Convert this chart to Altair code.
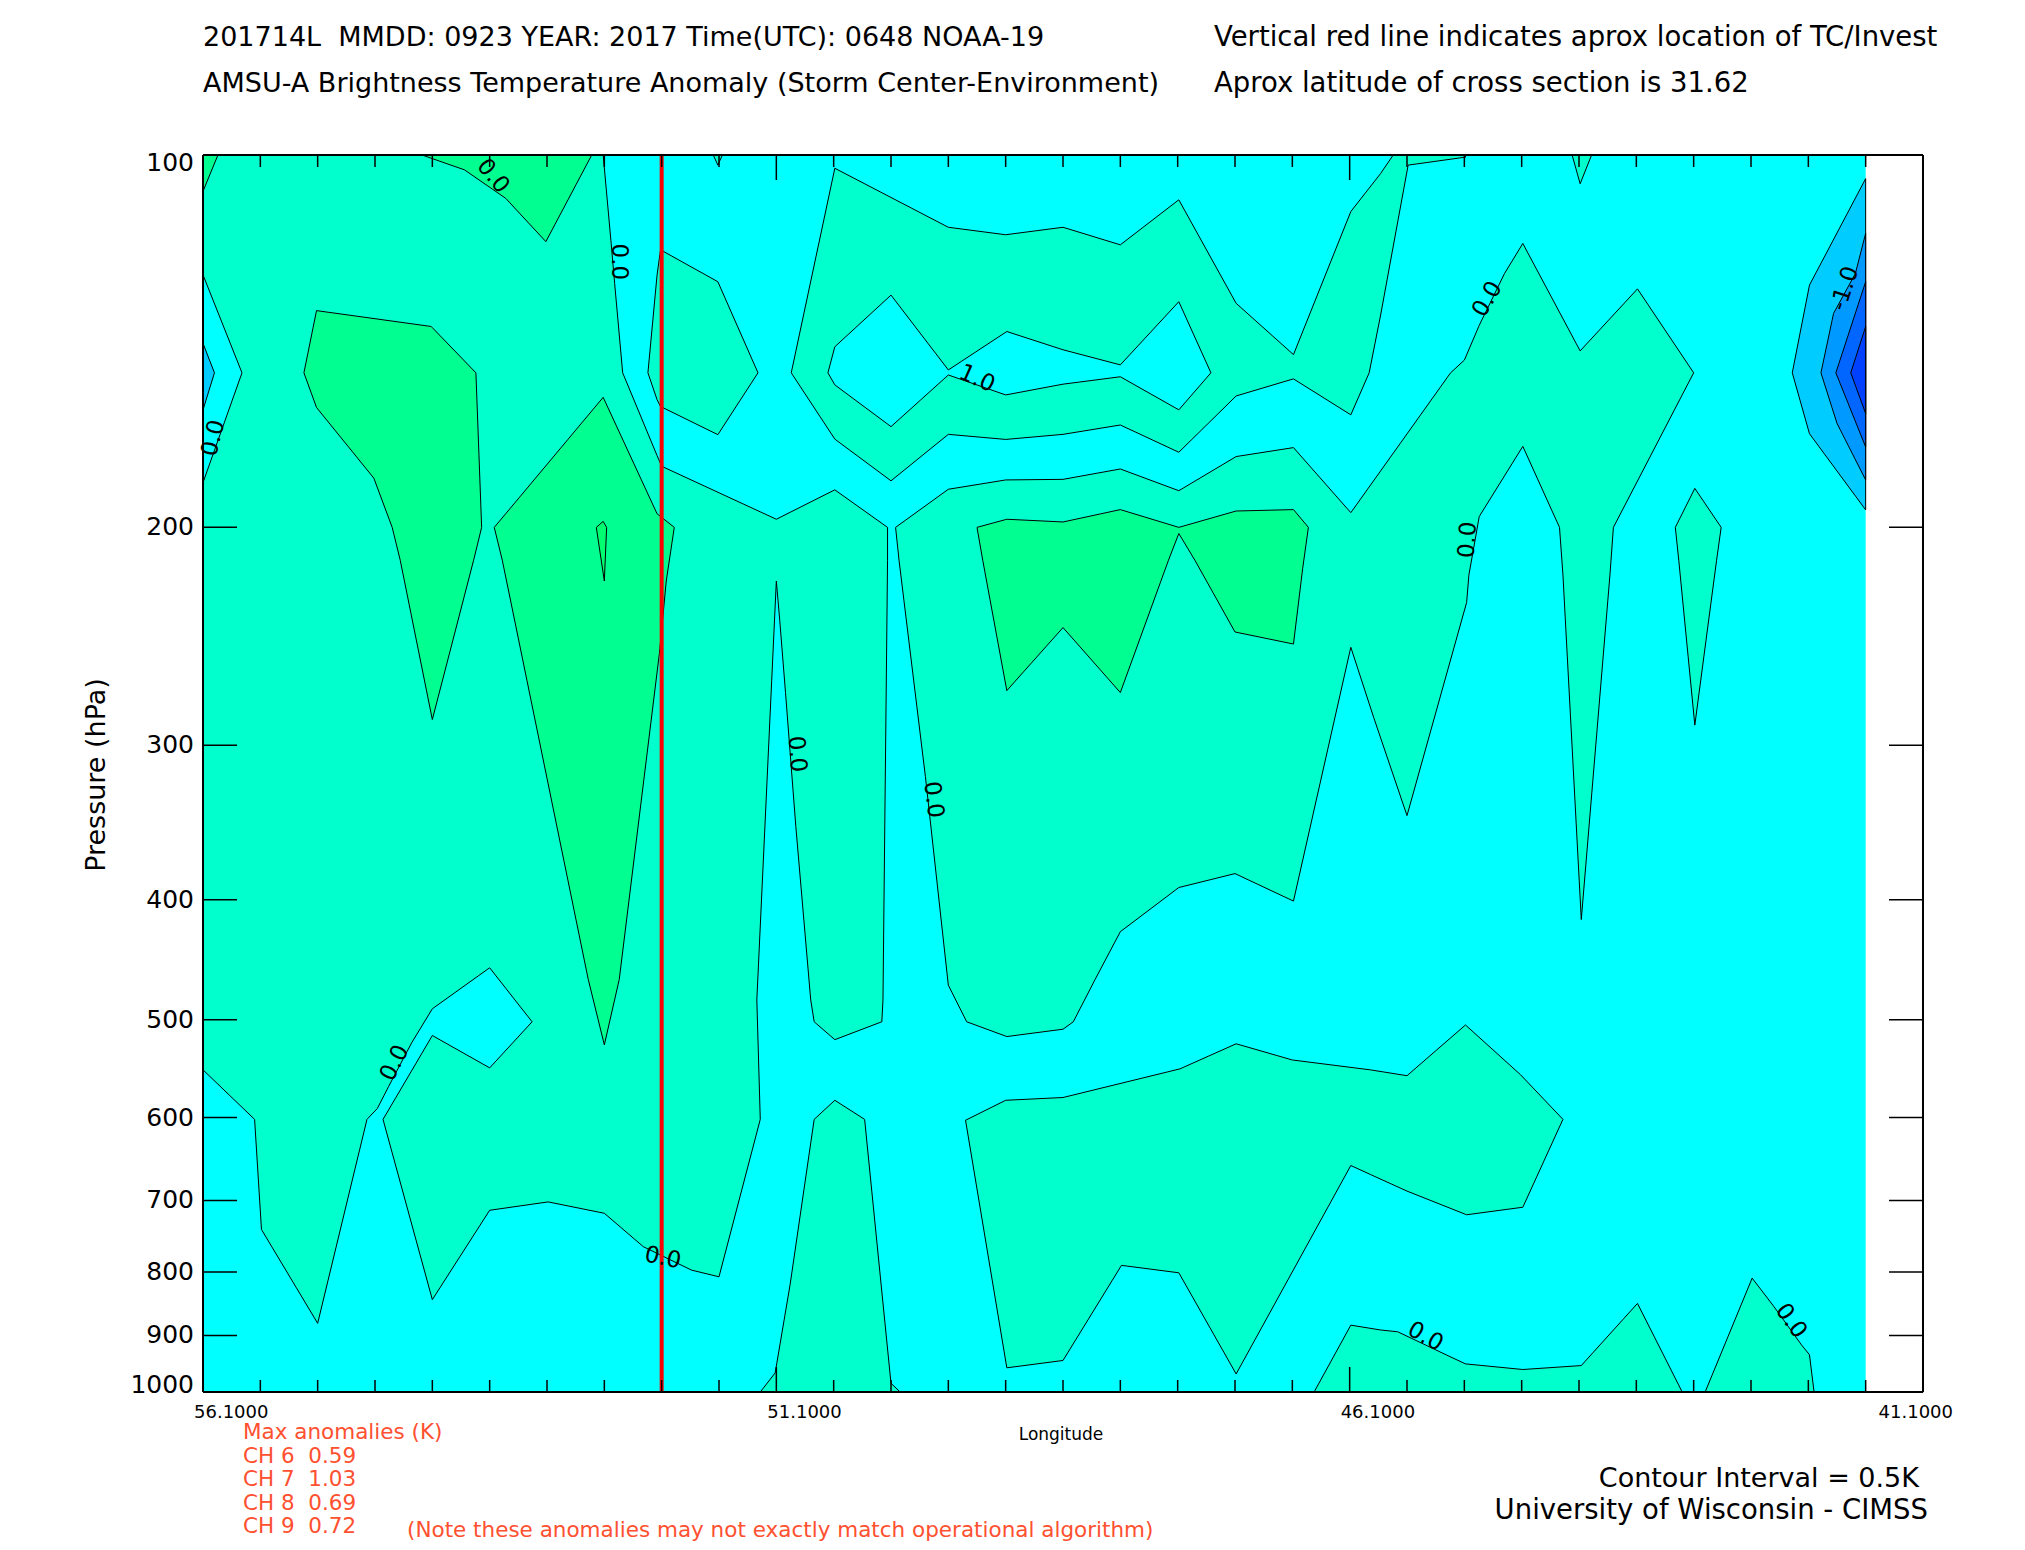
import altair as alt
import pandas as pd

# ------------------------------------------------------------------
# Data (longitude in deg, pressure in hPa)
# ------------------------------------------------------------------
DATA_LON = [56.1, 41.6]          # extent of the analysed field
DATA_P = [100, 1000]
STORM_LON = [52.1]               # vertical red line

# 0.0 .. 0.5 K regions (aquamarine)
AQ_LEFT = [(56.1,100),(52.61,100),(52.54,118),(52.51,127),(52.44,150),(52.14,175),(52.10,178.5),
           (51.1,197),(50.59,186.5),(50.13,200),(50.13,212.6),(50.17,482),(50.18,502),(50.59,519),
           (50.77,502),(50.80,482),(50.93,349),(51.02,272),(51.07,238),(51.10,221),(51.27,482),
           (51.24,602),(51.60,807),(51.84,797),(52.26,763),(52.60,717),(53.09,702),(53.60,713),
           (54.10,842),(54.53,602),(54.10,515),(53.60,547),(53.23,502),(53.38,482),(53.60,454),
           (54.10,490),(54.28,522),(54.48,566),(54.58,590),(54.67,602),(55.10,880),(55.59,739),
           (55.65,602),(56.1,549),(56.1,184),(55.76,150),(56.1,125)]
AQ_RED = [(52.14,125),(52.11,119.3),(51.61,126.6),(51.26,150),(51.61,168.3),(52.11,159.7),
          (52.14,157.7),(52.22,150)]
AQ_TOP1 = [(51.65,100),(51.61,101.9),(51.57,100)]
AQ_TOP2 = [(44.16,100),(44.09,105.5),(43.99,100)]
AQ_UPPER = [(50.59,102.5),(49.60,114.4),(49.10,116),(48.60,114.4),(48.10,118.2),(47.59,108.7),
            (47.09,131.8),(46.59,145),(46.09,111.1),(45.83,103.5),(45.72,100),(45.09,100),
            (45.09,100.4),(45.59,101.9),(45.83,134.7),(45.93,150),(46.09,162.2),(46.59,151.7),
            (47.09,156.6),(47.59,173.9),(48.10,165.3),(48.60,168.2),(49.10,169.8),(49.60,168.2),
            (50.10,183.4),(50.59,169.7),(50.97,150)]
AQ_MID = [(50.06,200),(50.03,212.6),(49.80,318),(49.60,469),(49.44,502),(49.09,516),(48.60,509),
          (48.51,502),(48.32,464),(48.10,424.5),(47.59,391),(47.10,381),(46.59,401),(46.09,250),
          (45.89,285),(45.60,342),(45.08,230),(45.06,218.5),(44.97,196),(44.59,172),(44.27,200),
          (44.24,218.5),(44.08,415),(43.83,218.5),(43.80,200),(43.10,150),(43.59,128.3),
          (44.09,144),(44.59,117.9),(44.75,124.7),(44.97,137.3),(45.10,146.5),(45.22,150),
          (46.09,194.6),(46.59,172.4),(47.09,175.3),(47.59,186.8),(48.10,179.4),(48.60,182.9),
          (49.10,183.1),(49.60,186.3)]
AQ_SPIKE = [(43.26,200),(43.09,186),(42.86,200),(42.90,212.6),(43.09,289),(43.23,212.6)]
AQ_BOT1 = [(51.24,1000),(51.11,965),(50.98,819),(50.77,602),(50.59,581),(50.33,602),(50.10,984),
           (50.02,1000)]
AQ_BOT2 = [(49.45,603),(49.10,581),(48.60,578),(47.58,548),(47.09,523),(46.60,539),(45.92,549),
           (45.60,555),(45.09,505),(44.61,554),(44.24,602),(44.59,709),(45.08,719),(45.60,688),
           (45.92,667),(46.09,656),(47.09,967),(47.59,801),(48.09,790),(48.60,943),(49.09,956)]
AQ_BOT3 = [(46.41,1000),(46.09,883),(45.83,891),(45.68,894),(45.26,933),(45.09,949),(44.59,959),
           (44.08,952),(43.59,848),(43.20,1000)]
AQ_BOT4 = [(43.00,1000),(42.59,809),(42.40,853),(42.16,916),(42.09,933),(42.05,1000)]

# -0.5 .. 0.0 K hole inside the upper aquamarine band
CY_HOLE = [(50.59,142.9),(50.10,129.8),(49.60,149.2),(49.09,138.9),(48.60,143.7),(48.10,147.8),
           (47.59,131.4),(47.31,150),(47.59,160.7),(48.10,151.1),(48.60,153.2),(49.10,156.3),
           (49.60,150.6),(50.10,165.8),(50.59,153.4),(50.65,150)]

# 0.5 .. 1.0 K regions (green)
GR_CORNER = [(56.1,100),(55.97,100),(56.1,107)]
GR_TOP = [(54.19,100),(53.82,102.8),(53.46,108.4),(53.11,117.5),(52.71,100)]
GR_LEFT = [(55.11,133.6),(54.11,137.6),(53.72,150),(53.67,200),(53.74,212.6),(54.10,286),
           (54.38,212.6),(54.45,200),(54.61,182.5),(55.11,160),(55.22,150)]
GR_STORM = [(53.56,200),(52.61,157),(52.14,195),(51.99,200),(52.06,221),(52.12,253),(52.47,464),
            (52.60,524),(52.74,464),(53.49,212.6)]
GR_MID = [(49.35,200),(49.09,197),(48.60,198),(48.10,193.5),(47.59,200),(47.09,194),(46.59,193.5),
          (46.46,200),(46.51,216),(46.59,248.5),(47.10,243),(47.45,212.6),(47.59,202.3),
          (47.68,212.6),(48.10,272),(48.60,241),(49.09,271),(49.30,212.6)]
# 1.0 .. 1.5 K
GR_CORE = [(52.67,200),(52.61,197.8),(52.58,200),(52.60,221)]

# negative anomalies (blues)
BL_LEFT = [(56.1,142),(56.0,150),(56.1,160.7)]
BL_1 = [(41.6,104.5),(42.09,127.4),(42.24,150),(42.09,168),(41.6,193.6)]
BL_2 = [(41.6,115.7),(41.69,124.7),(41.88,134.3),(41.99,150),(41.85,164.8),(41.6,183.1)]
BL_3 = [(41.6,126.6),(41.86,150),(41.6,172.2)]
BL_4 = [(41.6,137.6),(41.73,150),(41.6,161.8)]

# contour labels: text, lon, pressure, rotation
LBL_TEXT = ["0.0", "0.0", "0.0", "0.0", "0.0", "0.0", "0.0", "1.0", "0.0", "0.0", "-1.0", "0.0", "0.0"]
LBL_LON = [53.57, 52.47, 56.01, 54.43, 52.09, 50.92, 49.73, 49.35, 44.90, 45.07, 41.78, 45.44, 42.25]
LBL_P = [104, 122, 169.4, 542, 779, 305, 332, 151.6, 130.8, 204.7, 128.2, 902, 876]
LBL_ANGLE = [50, 90, 284, 297, 12, 85, 83, 24, 300, 274, 288, 29, 54]

# axes
P_TICKS = [100, 200, 300, 400, 500, 600, 700, 800, 900, 1000]
LON_MAJOR = [56.1, 51.1, 46.1, 41.1]
LON_MINOR = [55.6, 55.1, 54.6, 54.1, 53.6, 53.1, 52.6, 52.1, 51.6, 50.6, 50.1, 49.6, 49.1,
             48.6, 48.1, 47.6, 47.1, 46.6, 45.6, 45.1, 44.6, 44.1, 43.6, 43.1, 42.6, 42.1, 41.6]

# ------------------------------------------------------------------
W, H = 1720, 1237
FONT = "DejaVu Sans"
NB = "\u00a0"
xs = alt.Scale(domain=[41.1, 56.1], reverse=True, nice=False, zero=False)
ys = alt.Scale(type="log", domain=[100, 1000], reverse=True, nice=False)
X = lambda f: alt.X(f, type="quantitative", scale=xs, axis=None)
Y = lambda f: alt.Y(f, type="quantitative", scale=ys, axis=None)


def frame(polys):
    rows = []
    for k, poly in enumerate(polys):
        for i, (lo, pr) in enumerate(poly):
            rows.append({"poly": k, "i": i, "lon": lo, "p": pr})
    return pd.DataFrame(rows)


def fill_layer(polys, color, stroke="black"):
    return alt.Chart(frame(polys)).mark_line(
        interpolate="linear-closed", fill=color, stroke=stroke, strokeWidth=1, clip=True
    ).encode(x=X("lon"), y=Y("p"), detail="poly:N", order="i:Q")


bg = alt.Chart(pd.DataFrame({"lon": [DATA_LON[0]], "lon2": [DATA_LON[1]],
                             "p": [DATA_P[0]], "p2": [DATA_P[1]]})).mark_rect(
    color="#00FFFF").encode(x=X("lon"), x2="lon2", y=Y("p"), y2="p2")

aq = fill_layer([AQ_LEFT, AQ_RED, AQ_TOP1, AQ_TOP2, AQ_UPPER, AQ_MID, AQ_SPIKE,
                 AQ_BOT1, AQ_BOT2, AQ_BOT3, AQ_BOT4], "#00FFCC")
hole = fill_layer([CY_HOLE], "#00FFFF")
gr = fill_layer([GR_CORNER, GR_TOP, GR_LEFT, GR_STORM, GR_MID], "#00FF90")
core = fill_layer([GR_CORE], "#00FF70")
b0 = fill_layer([BL_LEFT, BL_1], "#00CCFF")
b2 = fill_layer([BL_2], "#0099FF")
b3 = fill_layer([BL_3], "#0066FF")
b4 = fill_layer([BL_4], "#0040FF")

red = alt.Chart(pd.DataFrame({"lon": STORM_LON})).mark_rule(
    color="#FF0000", strokeWidth=4).encode(x=X("lon"), y=alt.value(0), y2=alt.value(H))

labels = alt.Chart(pd.DataFrame({"t": LBL_TEXT, "lon": LBL_LON, "p": LBL_P, "a": LBL_ANGLE})).mark_text(
    font=FONT, fontSize=23, color="black", align="center", baseline="middle").encode(
    x=X("lon"), y=Y("p"), text="t:N", angle=alt.Angle("a:Q", scale=None))

# ticks and frame
minor_df = pd.DataFrame({"lon": LON_MINOR})
major_df = pd.DataFrame({"lon": LON_MAJOR})
ptick_df = pd.DataFrame({"p": P_TICKS})
one = pd.DataFrame({"a": [0]})
tk = dict(color="black", strokeWidth=1.5)
ticks = [
    alt.Chart(minor_df).mark_rule(**tk).encode(x=X("lon"), y=alt.value(0), y2=alt.value(12)),
    alt.Chart(minor_df).mark_rule(**tk).encode(x=X("lon"), y=alt.value(H - 12), y2=alt.value(H)),
    alt.Chart(major_df).mark_rule(**tk).encode(x=X("lon"), y=alt.value(0), y2=alt.value(25)),
    alt.Chart(major_df).mark_rule(**tk).encode(x=X("lon"), y=alt.value(H - 25), y2=alt.value(H)),
    alt.Chart(ptick_df).mark_rule(**tk).encode(y=Y("p"), x=alt.value(0), x2=alt.value(34)),
    alt.Chart(ptick_df).mark_rule(**tk).encode(y=Y("p"), x=alt.value(W - 34), x2=alt.value(W)),
]
fr = dict(color="black", strokeWidth=2)
border = [
    alt.Chart(one).mark_rule(**fr).encode(x=alt.value(0), x2=alt.value(W), y=alt.value(0)),
    alt.Chart(one).mark_rule(**fr).encode(x=alt.value(0), x2=alt.value(W), y=alt.value(H)),
    alt.Chart(one).mark_rule(**fr).encode(y=alt.value(0), y2=alt.value(H), x=alt.value(0)),
    alt.Chart(one).mark_rule(**fr).encode(y=alt.value(0), y2=alt.value(H), x=alt.value(W)),
]

ylab_df = ptick_df.assign(t=[str(v) for v in P_TICKS])
ylab_kw = dict(font=FONT, fontSize=25, align="right", baseline="middle")
ylab = [
    alt.Chart(ylab_df).transform_filter("datum.p > 100 && datum.p < 1000").mark_text(
        dx=-9, **ylab_kw).encode(y=Y("p"), x=alt.value(0), text="t:N"),
    alt.Chart(ylab_df).transform_filter("datum.p == 100").mark_text(
        dx=-9, dy=8, **ylab_kw).encode(y=Y("p"), x=alt.value(0), text="t:N"),
    alt.Chart(ylab_df).transform_filter("datum.p == 1000").mark_text(
        dx=-9, dy=-7, **ylab_kw).encode(y=Y("p"), x=alt.value(0), text="t:N"),
]

xlab_df = pd.DataFrame({"lon": LON_MAJOR, "t": ["%.4f" % v for v in LON_MAJOR]})
xlab = alt.Chart(xlab_df).transform_filter("datum.lon > 42").mark_text(
    font=FONT, fontSize=18, align="left", baseline="middle", dx=-9).encode(
    x=X("lon"), y=alt.value(H + 21), text="t:N")
xlab_last = alt.Chart(xlab_df).transform_filter("datum.lon < 42").mark_text(
    font=FONT, fontSize=18, align="right", baseline="middle", dx=30).encode(
    x=X("lon"), y=alt.value(H + 21), text="t:N")


def txt(s, x, y, size, align="left", color="black", angle=0, lh=None):
    kw = dict(font=FONT, fontSize=size, align=align, baseline="middle", color=color)
    if angle:
        kw["angle"] = angle
    if lh:
        kw["lineBreak"] = "\n"
        kw["lineHeight"] = lh
        kw["baseline"] = "top"
    return alt.Chart(one).mark_text(**kw).encode(
        x=alt.value(x), y=alt.value(y), text=alt.value(s))


RED_TXT = "#FF5030"
texts = [
    txt("201714L" + NB * 2 + "MMDD: 0923 YEAR: 2017 Time(UTC): 0648 NOAA-19", 0, -117, 27),
    txt("AMSU-A Brightness Temperature Anomaly (Storm Center-Environment)", 0, -71, 27),
    txt("Vertical red line indicates aprox location of TC/Invest", 1011, -117, 27.5),
    txt("Aprox latitude of cross section is 31.62", 1011, -71, 27.5),
    txt("Longitude", 858, H + 43, 17, align="center"),
    txt("Pressure (hPa)", -106, 620, 27, align="center", angle=270),
    txt("Max anomalies (K)\nCH 6" + NB * 2 + "0.59\nCH 7" + NB * 2 + "1.03\nCH 8" + NB * 2
        + "0.69\nCH 9" + NB * 2 + "0.72", 40, H + 30, 21.5, color=RED_TXT, lh=23.5),
    txt("(Note these anomalies may not exactly match operational algorithm)", 204, H + 139, 21.5,
        color=RED_TXT),
    txt("Contour Interval = 0.5K", 1716, H + 87, 27, align="right"),
    txt("University of Wisconsin - CIMSS", 1725, H + 119, 27.5, align="right"),
]

chart = alt.layer(bg, aq, hole, gr, core, b0, b2, b3, b4, red, labels, *ticks, *border, *ylab,
                  xlab, xlab_last, *texts).properties(
    width=W, height=H,
    autosize=alt.AutoSizeParams(type="none"),
    padding={"left": 195, "top": 147, "right": 94, "bottom": 150},
).configure_view(stroke=None).configure(background="white")

chart.save("out.html", embed_options={"renderer": "svg", "actions": False})
